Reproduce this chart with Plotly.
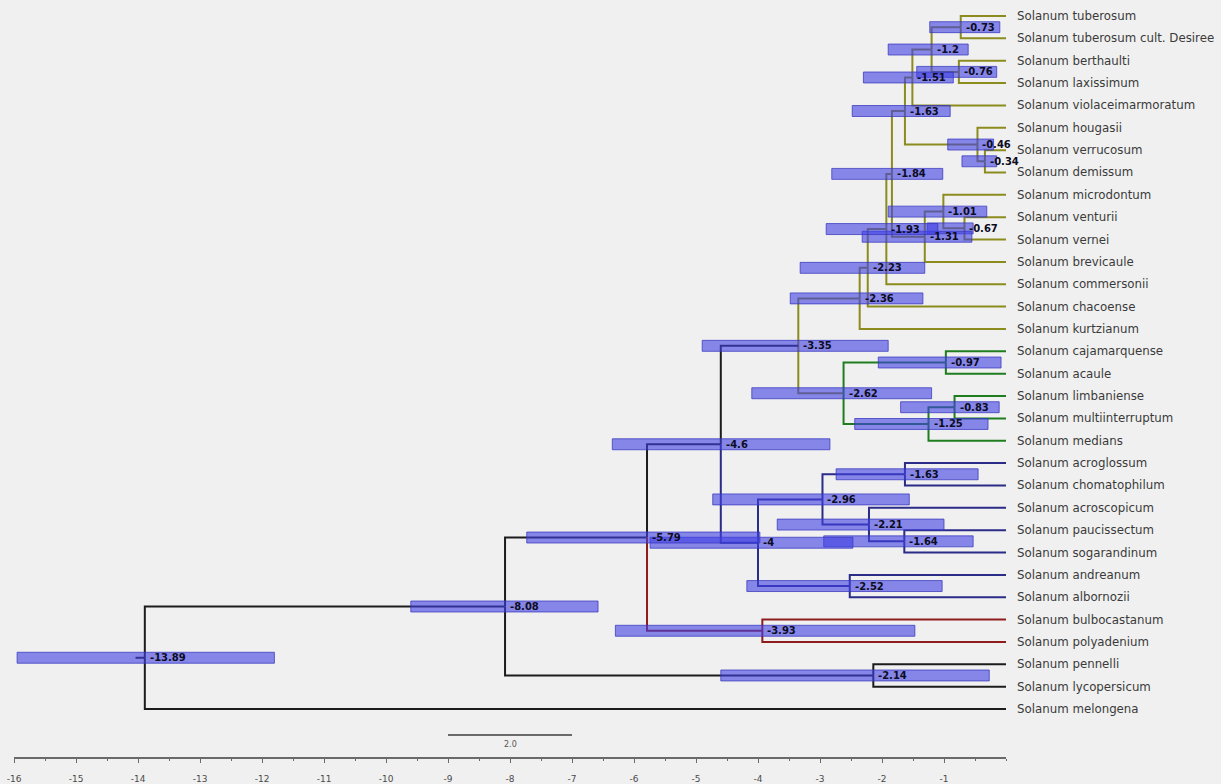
import plotly.graph_objects as go

# ---- tree data -------------------------------------------------------------
taxa = [
    "Solanum tuberosum", "Solanum tuberosum cult. Desiree", "Solanum berthaulti",
    "Solanum laxissimum", "Solanum violaceimarmoratum", "Solanum hougasii",
    "Solanum verrucosum", "Solanum demissum", "Solanum microdontum",
    "Solanum venturii", "Solanum vernei", "Solanum brevicaule",
    "Solanum commersonii", "Solanum chacoense", "Solanum kurtzianum",
    "Solanum cajamarquense", "Solanum acaule", "Solanum limbaniense",
    "Solanum multiinterruptum", "Solanum medians", "Solanum acroglossum",
    "Solanum chomatophilum", "Solanum acroscopicum", "Solanum paucissectum",
    "Solanum sogarandinum", "Solanum andreanum", "Solanum albornozii",
    "Solanum bulbocastanum", "Solanum polyadenium", "Solanum pennelli",
    "Solanum lycopersicum", "Solanum melongena",
]

# internal nodes in post-order (children always listed before their parent)
node_keys = [f"N{i}" for i in range(1, 32)]
node_children = [
    ("Solanum tuberosum", "Solanum tuberosum cult. Desiree"),   # N1
    ("Solanum berthaulti", "Solanum laxissimum"),               # N2
    ("N1", "N2"),                                               # N3
    ("N3", "Solanum violaceimarmoratum"),                       # N4
    ("Solanum verrucosum", "Solanum demissum"),                 # N5
    ("Solanum hougasii", "N5"),                                 # N6
    ("N4", "N6"),                                               # N7
    ("Solanum venturii", "Solanum vernei"),                     # N8
    ("Solanum microdontum", "N8"),                              # N9
    ("N9", "Solanum brevicaule"),                               # N10
    ("N7", "N10"),                                              # N11
    ("N11", "Solanum commersonii"),                             # N12
    ("N12", "Solanum chacoense"),                               # N13
    ("N13", "Solanum kurtzianum"),                              # N14
    ("Solanum cajamarquense", "Solanum acaule"),                # N15
    ("Solanum limbaniense", "Solanum multiinterruptum"),        # N16
    ("N16", "Solanum medians"),                                 # N17
    ("N15", "N17"),                                             # N18
    ("N14", "N18"),                                             # N19
    ("Solanum acroglossum", "Solanum chomatophilum"),           # N20
    ("Solanum paucissectum", "Solanum sogarandinum"),           # N21
    ("Solanum acroscopicum", "N21"),                            # N22
    ("N20", "N22"),                                             # N23
    ("Solanum andreanum", "Solanum albornozii"),                # N24
    ("N23", "N24"),                                             # N25
    ("N19", "N25"),                                             # N26
    ("Solanum bulbocastanum", "Solanum polyadenium"),           # N27
    ("N26", "N27"),                                             # N28
    ("Solanum pennelli", "Solanum lycopersicum"),               # N29
    ("N28", "N29"),                                             # N30
    ("N30", "Solanum melongena"),                               # N31
]
node_ages = [
    -0.73, -0.76, -1.2, -1.51, -0.34, -0.46, -1.63, -0.67, -1.01, -1.31,
    -1.84, -1.93, -2.23, -2.36, -0.97, -0.83, -1.25, -2.62, -3.35, -1.63,
    -1.64, -2.21, -2.96, -2.52, -4.0, -4.6, -3.93, -5.79, -2.14, -8.08, -13.89,
]
hpd_low = [
    -1.23, -1.44, -1.9, -2.3, -0.71, -0.94, -2.48, -1.27, -1.9, -2.32,
    -2.81, -2.9, -3.32, -3.48, -2.06, -1.7, -2.44, -4.1, -4.9, -2.74,
    -2.94, -3.69, -4.73, -4.18, -5.74, -6.35, -6.3, -7.73, -4.6, -9.6, -15.95,
]
hpd_high = [
    -0.1, -0.15, -0.61, -0.85, -0.15, -0.2, -0.9, -0.53, -0.31, -0.55,
    -1.02, -1.1, -1.31, -1.34, -0.08, -0.11, -0.29, -1.2, -1.9, -0.45,
    -0.53, -1.0, -1.56, -1.03, -2.47, -2.84, -1.47, -3.97, -0.27, -6.58, -11.8,
]

# branch colouring: a key colours its own stem and everything below it,
# unless a descendant has its own entry
clade_colors = {
    "N14": "#8c8c1e",   # olive
    "N18": "#8c8c1e",   # olive stem of the green group
    "N15": "#1f7d1f",   # green
    "N17": "#1f7d1f",   # green
    "N25": "#2b2b88",   # navy
    "N27": "#8e1c1c",   # dark red
}
default_color = "#1c1c1c"

tick_vals = list(range(-16, 0))
tick_labels = [str(v) for v in tick_vals]
scale_length = 2.0
scale_label = "2.0"
root_stub = 0.15

# ---- layout geometry (pixel calibration of the drawing) -------------------
W, H = 1221, 784
PX_PER_UNIT = 62.0
X_ZERO_PX = 1006.0
ROW_PX = 22.355
FIRST_ROW_PX = 16.0
AXIS_PX = 757.0

# ---- derived positions -----------------------------------------------------
age = {t: 0.0 for t in taxa}
ypos = {t: float(i) for i, t in enumerate(taxa)}
parent = {}
for key, kids, a in zip(node_keys, node_children, node_ages):
    age[key] = a
    ypos[key] = sum(ypos[k] for k in kids) / len(kids)
    for k in kids:
        parent[k] = key

root = node_keys[-1]
color = {root: default_color}
for key in reversed(node_keys):
    base = clade_colors.get(key, color.get(key, default_color))
    color[key] = base
    for k in node_children[node_keys.index(key)]:
        color[k] = clade_colors.get(k, base)

# ---- branch segments grouped by colour ------------------------------------
segs = {}
for child, p in parent.items():
    xs, ys = segs.setdefault(color[child], ([], []))
    # elbow: vertical at parent's age, then horizontal to the child
    xs += [age[p], age[p], age[child], None]
    ys += [ypos[p], ypos[child], ypos[child], None]
xs, ys = segs.setdefault(default_color, ([], []))
xs += [age[root] - root_stub, age[root], None]
ys += [ypos[root], ypos[root], None]

fig = go.Figure()
for c, (xs, ys) in segs.items():
    fig.add_trace(go.Scatter(x=xs, y=ys, mode="lines",
                             line=dict(color=c, width=2), hoverinfo="skip"))

# ---- HPD bars --------------------------------------------------------------
bar_half = 0.245
for key, lo, hi in zip(node_keys, hpd_low, hpd_high):
    fig.add_shape(type="rect", xref="x", yref="y", layer="above",
                  x0=lo, x1=hi, y0=ypos[key] - bar_half, y1=ypos[key] + bar_half,
                  fillcolor="rgba(64,64,228,0.6)",
                  line=dict(color="rgba(55,55,190,0.75)", width=1))

# ---- node age labels -------------------------------------------------------
for key, a in zip(node_keys, node_ages):
    fig.add_annotation(x=a, y=ypos[key], xref="x", yref="y",
                       text=f"<b>{a:g}</b>", showarrow=False,
                       xanchor="left", yanchor="middle", xshift=3,
                       font=dict(family="DejaVu Sans", size=10, color="#0c0c22"))

# ---- tip labels ------------------------------------------------------------
for t in taxa:
    fig.add_annotation(x=0, y=ypos[t], xref="x", yref="y", text=t,
                       showarrow=False, xanchor="left", yanchor="middle",
                       xshift=9,
                       font=dict(family="DejaVu Sans", size=11.8, color="#3a3a3a"))

# ---- scale bar -------------------------------------------------------------
sb_y = (735 - FIRST_ROW_PX) / ROW_PX
fig.add_shape(type="line", xref="x", yref="y", x0=-9, x1=-9 + scale_length,
              y0=sb_y, y1=sb_y, line=dict(color="#6a6a6a", width=2))
fig.add_annotation(x=-9 + scale_length / 2, y=sb_y, xref="x", yref="y",
                   text=scale_label, showarrow=False, yanchor="top", yshift=-3,
                   font=dict(family="DejaVu Sans", size=8, color="#555555"))

# ---- axes ------------------------------------------------------------------
x_left_px = X_ZERO_PX - 16 * PX_PER_UNIT
fig.update_layout(
    template="none",
    width=W, height=H,
    margin=dict(l=0, r=0, t=0, b=int(H - AXIS_PX)),
    paper_bgcolor="#f0f0f0", plot_bgcolor="#f0f0f0",
    showlegend=False,
    xaxis=dict(
        domain=[x_left_px / W, X_ZERO_PX / W], range=[-16, 0],
        showgrid=False, zeroline=False, automargin=False,
        showline=True, linecolor="#6a6a6a", linewidth=2,
        ticks="outside", ticklen=4, tickwidth=1, tickcolor="#6a6a6a",
        tickvals=tick_vals, ticktext=tick_labels, ticklabelstandoff=8,
        tickfont=dict(family="DejaVu Sans", size=9, color="#4a4a4a"),
        minor=dict(dtick=0.5, tick0=0, ticks="outside", ticklen=2,
                   tickcolor="#6a6a6a", showgrid=False),
        fixedrange=True,
    ),
    yaxis=dict(
        range=[(AXIS_PX - FIRST_ROW_PX) / ROW_PX, -FIRST_ROW_PX / ROW_PX],
        visible=False, showgrid=False, zeroline=False, automargin=False,
        fixedrange=True,
    ),
)

fig.write_html("out.html")
